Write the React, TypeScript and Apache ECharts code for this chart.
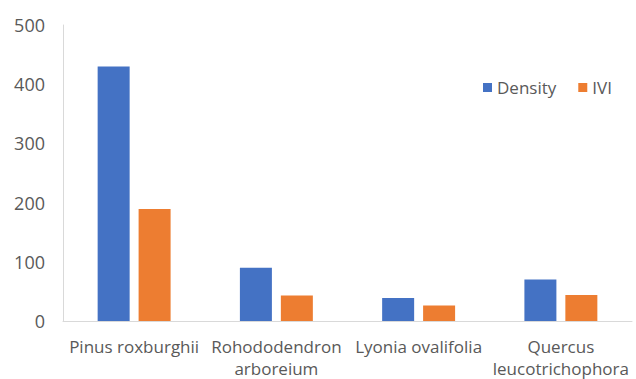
import React, { useEffect, useRef } from "react";
import * as echarts from "echarts";

const categories = [
  "Pinus roxburghii",
  "Rohododendron\narboreium",
  "Lyonia ovalifolia",
  "Quercus\nleucotrichophora",
];
const densityValues = [430, 90, 39, 70];
const iviValues = [189, 43, 26, 44];

const TEXT = "#595959";
const FONT = "'Open Sans', sans-serif";

export default function App() {
  const ref = useRef<HTMLDivElement>(null);

  useEffect(() => {
    if (!ref.current) return;
    const chart = echarts.init(ref.current, null, { renderer: "svg" });
    chart.setOption({
      animation: false,
      backgroundColor: "#ffffff",
      textStyle: { fontFamily: FONT },
      legend: {
        data: ["Density", "IVI"],
        left: 478,
        top: 74,
        itemWidth: 9,
        itemHeight: 9,
        itemGap: 22,
        icon: "rect",
        textStyle: { color: TEXT, fontSize: 17, fontFamily: FONT },
      },
      grid: { left: 63, right: 4, top: 25, bottom: 52 },
      xAxis: {
        type: "category",
        data: categories,
        axisLine: { show: true, lineStyle: { color: "#d9d9d9", width: 1 } },
        axisTick: { show: false },
        axisLabel: {
          color: TEXT,
          fontSize: 17,
          fontFamily: FONT,
          margin: 14,
          lineHeight: 22,
          interval: 0,
        },
      },
      yAxis: {
        type: "value",
        min: 0,
        max: 500,
        interval: 100,
        axisLine: { show: true, lineStyle: { color: "#d9d9d9", width: 1 } },
        axisTick: { show: false },
        splitLine: { show: false },
        axisLabel: { color: TEXT, fontSize: 18, fontFamily: FONT, margin: 18 },
      },
      series: [
        {
          name: "Density",
          type: "bar",
          data: densityValues,
          barWidth: 32,
          barGap: "28%",
          itemStyle: { color: "#4472C4" },
        },
        {
          name: "IVI",
          type: "bar",
          data: iviValues,
          barWidth: 32,
          itemStyle: { color: "#ED7D31" },
        },
      ],
    });
    return () => chart.dispose();
  }, []);

  return (
    <div
      ref={ref}
      style={{ position: "fixed", left: 0, top: 0, width: 636, height: 379 }}
    />
  );
}
